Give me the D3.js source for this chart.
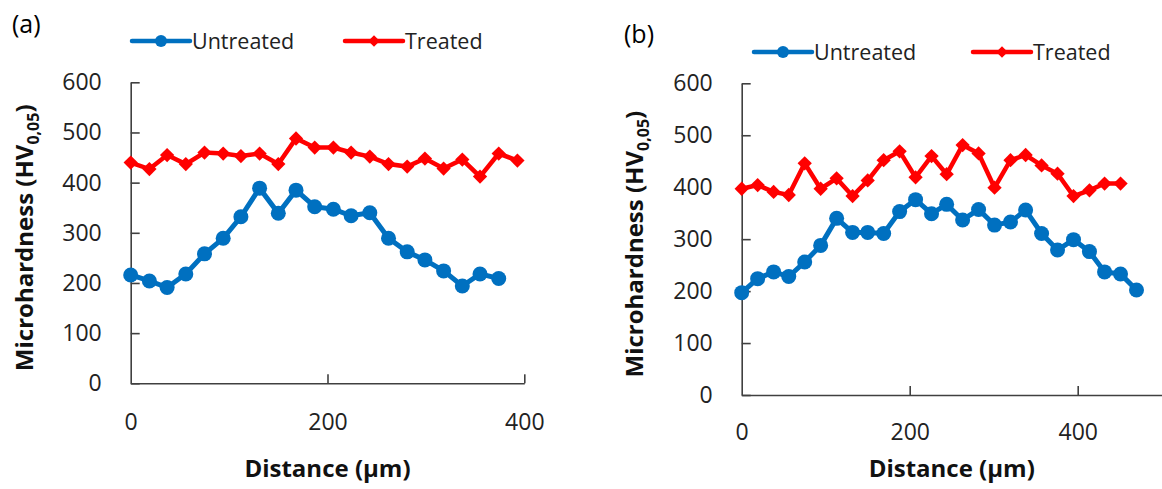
<!DOCTYPE html>
<html>
<head>
<meta charset="utf-8">
<script src="https://cdn.jsdelivr.net/npm/d3@7"></script>
<style>
  body { margin: 0; background: #fff; }
  svg { display: block; }
</style>
</head>
<body>
<script>
// panel (a)
var distA = [0, 19, 37, 56, 75, 94, 112, 131, 150, 168, 187, 206, 224, 243, 262, 281, 299, 318, 337, 355, 374, 393];
var untreatedA = [216, 204, 191, 218, 258, 289, 332, 389, 339, 385, 352, 347, 334, 340, 289, 262, 246, 224, 194, 218, 209];
var treatedA = [440, 427, 455, 437, 460, 458, 453, 458, 437, 488, 470, 470, 460, 452, 437, 432, 448, 428, 446, 412, 458, 444];

// panel (b)
var distB = [0, 19, 38, 56, 75, 94, 113, 132, 150, 169, 188, 207, 226, 244, 263, 282, 301, 320, 338, 357, 376, 395, 414, 432, 451, 470];
var untreatedB = [197, 224, 237, 228, 256, 288, 340, 313, 313, 311, 353, 376, 349, 367, 337, 357, 327, 333, 356, 311, 279, 299, 276, 237, 233, 202];
var treatedB = [397, 404, 391, 385, 446, 397, 417, 383, 413, 452, 469, 419, 460, 425, 481, 465, 399, 452, 462, 442, 426, 383, 394, 407, 407];

var yTicks = [0, 100, 200, 300, 400, 500, 600];
var xTicks = [0, 200, 400];
var seriesNames = ["Untreated", "Treated"];

var blue = "#0070C0";
var red = "#FF0000";
var axisColor = "#404040";
var font = "'Open Sans', 'DejaVu Sans', sans-serif";

var svg = d3.select("body")
   .append("svg")
   .attr("width", 1162)
   .attr("height", 489);

function drawPanel(p) {
   var x = d3.scaleLinear().domain([0, p.xMax]).range([p.x0, p.x1]);
   var y = d3.scaleLinear().domain([0, 600]).range([p.y0, p.y1]);
   var g = svg.append("g");

   // y axis
   var ya = g.append("g")
      .attr("transform", "translate(" + p.x0 + ",0)")
      .call(d3.axisLeft(y).tickValues(yTicks).tickSize(-9).tickSizeOuter(0).tickPadding(29));
   // x axis
   var xa = g.append("g")
      .attr("transform", "translate(0," + p.y0 + ")")
      .call(d3.axisBottom(x).tickValues(xTicks).tickSize(-9).tickSizeOuter(0).tickPadding(p.xPad));

   [ya, xa].forEach(function(a) {
      a.select(".domain").attr("stroke", axisColor).attr("stroke-width", 1.6);
      a.selectAll(".tick line").attr("stroke", axisColor).attr("stroke-width", 1.6);
      a.selectAll(".tick text")
         .attr("fill", "#222")
         .style("font-family", font)
         .style("font-size", "23px");
   });
   xa.selectAll(".tick").filter(function(d) { return d === 0; }).select("line").remove();

   var line = d3.line()
      .x(function(d) { return x(d[0]); })
      .y(function(d) { return y(d[1]); });

   var uData = p.untreated.map(function(v, i) { return [p.dist[i], v]; });
   var tData = p.treated.map(function(v, i) { return [p.dist[i], v]; });

   g.append("path")
      .attr("d", line(uData))
      .style("stroke", blue)
      .style("stroke-width", 5)
      .style("fill", "none");
   g.selectAll(".dotU")
      .data(uData)
      .enter()
      .append("circle")
      .attr("cx", function(d) { return x(d[0]); })
      .attr("cy", function(d) { return y(d[1]); })
      .attr("r", 7.5)
      .style("fill", blue);

   g.append("path")
      .attr("d", line(tData))
      .style("stroke", red)
      .style("stroke-width", 4.5)
      .style("fill", "none");
   var diamond = d3.symbol().type(d3.symbolDiamond2).size(130);
   g.selectAll(".dotT")
      .data(tData)
      .enter()
      .append("path")
      .attr("d", diamond)
      .attr("transform", function(d) { return "translate(" + x(d[0]) + "," + y(d[1]) + ")"; })
      .style("fill", red);

   // panel label
   g.append("text")
      .attr("x", p.labelX)
      .attr("y", p.labelY)
      .style("font-family", font)
      .style("font-size", "25px")
      .attr("fill", "#000")
      .text(p.label);

   // axis titles
   g.append("text")
      .attr("x", (p.x0 + p.x1) / 2)
      .attr("y", p.xTitleY)
      .attr("text-anchor", "middle")
      .style("font-family", font)
      .style("font-size", "24px")
      .style("font-weight", "bold")
      .attr("fill", "#111")
      .text("Distance (µm)");

   var yt = g.append("text")
      .attr("transform", "translate(" + p.yTitleX + "," + ((p.y0 + p.y1) / 2 + 5) + ") rotate(-90)")
      .attr("text-anchor", "middle")
      .style("font-family", font)
      .style("font-size", "24px")
      .style("font-weight", "bold")
      .attr("fill", "#111");
   yt.append("tspan").text("Microhardness (HV");
   yt.append("tspan").attr("dy", 6).style("font-size", "16px").text("0,05");
   yt.append("tspan").attr("dy", -6).text(")");

   // legend
   var lg = g.append("g");
   var items = [
      { name: seriesNames[0], color: blue, x: p.legX[0], shape: "circle" },
      { name: seriesNames[1], color: red, x: p.legX[1], shape: "diamond" }
   ];
   items.forEach(function(it) {
      lg.append("line")
         .attr("x1", it.x).attr("x2", it.x + 58)
         .attr("y1", p.legY).attr("y2", p.legY)
         .style("stroke", it.color)
         .style("stroke-width", 4.5)
         .style("stroke-linecap", "round");
      if (it.shape === "circle") {
         lg.append("circle")
            .attr("cx", it.x + 29).attr("cy", p.legY).attr("r", 6)
            .style("fill", it.color);
      } else {
         lg.append("path")
            .attr("d", d3.symbol().type(d3.symbolDiamond2).size(85))
            .attr("transform", "translate(" + (it.x + 29) + "," + p.legY + ")")
            .style("fill", it.color);
      }
      lg.append("text")
         .attr("x", it.x + 60)
         .attr("y", p.legY + 8)
         .style("font-family", font)
         .style("font-size", "21.5px")
         .attr("fill", "#222")
         .text(it.name);
   });
}

drawPanel({
   label: "(a)", labelX: 12, labelY: 33,
   dist: distA, untreated: untreatedA, treated: treatedA,
   xMax: 400, x0: 130.7, x1: 524.3, y0: 383.3, y1: 82.3,
   xPad: 30, xTitleY: 477, yTitleX: 33,
   legX: [132, 345], legY: 41
});

drawPanel({
   label: "(b)", labelX: 624, labelY: 43,
   dist: distB, untreated: untreatedB, treated: treatedB,
   xMax: 500, x0: 741.7, x1: 1161.7, y0: 395, y1: 83.3,
   xPad: 29, xTitleY: 477, yTitleX: 643,
   legX: [754, 973], legY: 52
});
</script>
</body>
</html>
